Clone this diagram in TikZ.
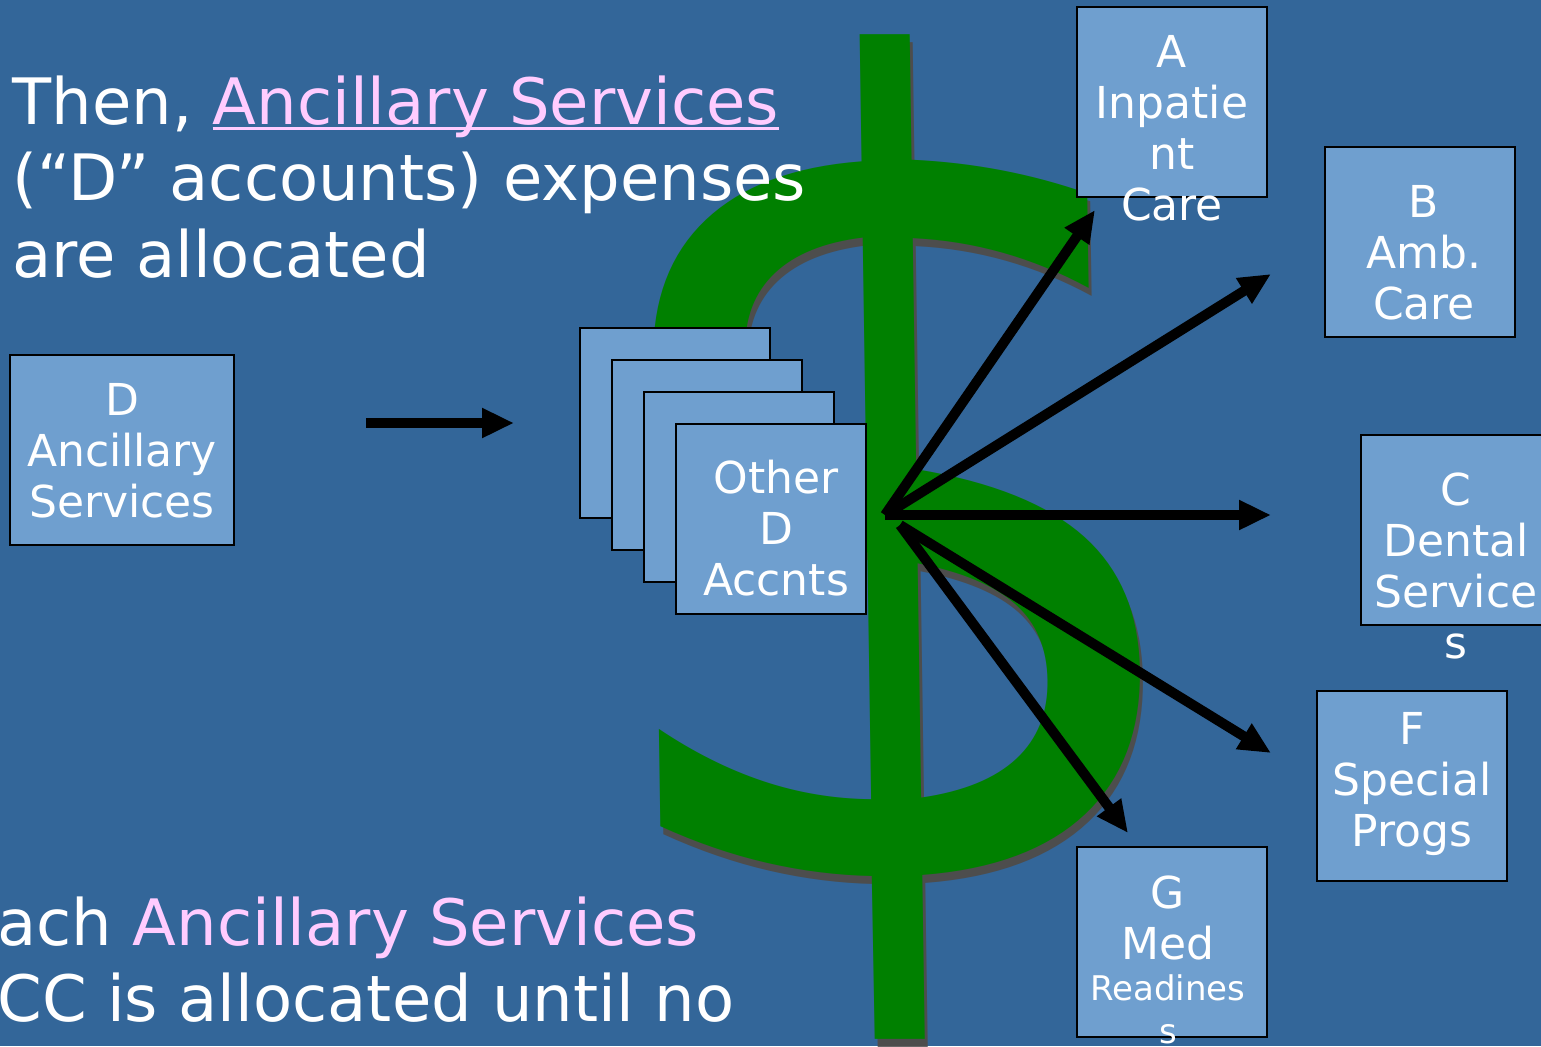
\documentclass[tikz,border=0pt]{standalone}
\usepackage{fontspec}
\setmainfont{DejaVu Sans}
\usetikzlibrary{arrows.meta}
\definecolor{slidebg}{HTML}{336699}
\definecolor{boxblue}{HTML}{6F9FCF}
\definecolor{dollargreen}{HTML}{008000}
\definecolor{dollarshade}{HTML}{4D4D4D}
\definecolor{linkpink}{HTML}{FFCCFF}
\newcommand{\dollarglyph}{\scalebox{0.925}[1]{\fontsize{554}{600}\selectfont\$}}
\newcommand{\linkul}[1]{\setbox0\hbox{#1}\rlap{\rule[-3.2pt]{\wd0}{1.5pt}}\box0}
\tikzset{
  acct/.style={draw=black, line width=1pt, fill=boxblue, minimum width=95pt, minimum height=95pt, inner sep=0pt},
  accttext/.style={text=white, align=center, inner sep=0pt, anchor=north, font=\fontsize{22}{25.5}\selectfont},
  slidetext/.style={text=white, align=left, inner sep=0pt, anchor=north west, font=\fontsize{32}{38.25}\selectfont},
  alloc/.style={line width=5pt, -{Triangle[length=16pt,width=14pt]}},
  bigdollar/.style={inner sep=0pt, xslant=-0.015, transform shape},
}
\begin{document}
\begin{tikzpicture}[x=0.5pt,y=-0.5pt]
	%background
	\fill[slidebg] (0,0) rectangle (1541,1046);
	\useasboundingbox (0,0) rectangle (1541,1046);
	%dollar sign
	\node[bigdollar, text=dollarshade] (dollarshadow) at (900,545) {\dollarglyph};
	\node[bigdollar, text=dollargreen] (dollar) at (897,537) {\dollarglyph};
	%titles
	\node[slidetext] (heading) at (12,75) {Then, {\color{linkpink}\linkul{Ancillary Services}}\\(“D” accounts) expenses\\are allocated};
	\node[slidetext] (footer) at (-3,896) {ach {\color{linkpink}Ancillary Services}\\CC is allocated until no};
	%ancillary services
	\node[acct, minimum width=112pt] (dept) at (122,450) {};
	\node[accttext] (depttext) at (122,383) {D\\Ancillary\\Services};
	\coordinate (feedstart) at (366,423);
	\coordinate (feedend) at (514,423);
	\draw[alloc] (feedstart) -- (feedend);
	%other D accounts
	\node[acct] (other1) at (675,423) {};
	\node[acct] (other2) at (707,455) {};
	\node[acct] (other3) at (739,487) {};
	\node[acct] (other4) at (771,519) {};
	\node[accttext] (othertext) at (776,460) {Other\\D\\Accnts};
	%receiving accounts
	\node[acct] (inpat) at (1172,102) {};
	\node[accttext] (inpattext) at (1172,35) {A\\Inpatie\\nt\\Care};
	\node[acct] (amb) at (1420,242) {};
	\node[accttext] (ambtext) at (1424,185) {B\\Amb.\\Care};
	\node[acct] (dental) at (1456,530) {};
	\node[accttext] (dentaltext) at (1456,472) {C\\Dental\\Service\\s};
	\node[acct] (special) at (1412,786) {};
	\node[accttext] (specialtext) at (1412,712) {F\\Special\\Progs};
	\node[acct] (medready) at (1172,942) {};
	\node[accttext] (medtext) at (1168,875) {G\\Med};
	\node[accttext, font=\fontsize{17}{21.5}\selectfont] (medsmall) at (1168,974) {Readines\\s};
	%allocation arrows
	\coordinate (hub) at (885,515);
	\coordinate (hublow) at (900,525);
	\coordinate (toinpat) at (1095,210);
	\coordinate (toamb) at (1271,274);
	\coordinate (todental) at (1271,515);
	\coordinate (tospecial) at (1271,753);
	\coordinate (tomed) at (1128,833);
	\draw[alloc] (hub) -- (toinpat);
	\draw[alloc] (hub) -- (toamb);
	\draw[alloc] (hub) -- (todental);
	\draw[alloc] (hublow) -- (tospecial);
	\draw[alloc] (hublow) -- (tomed);
\end{tikzpicture}
\end{document}
